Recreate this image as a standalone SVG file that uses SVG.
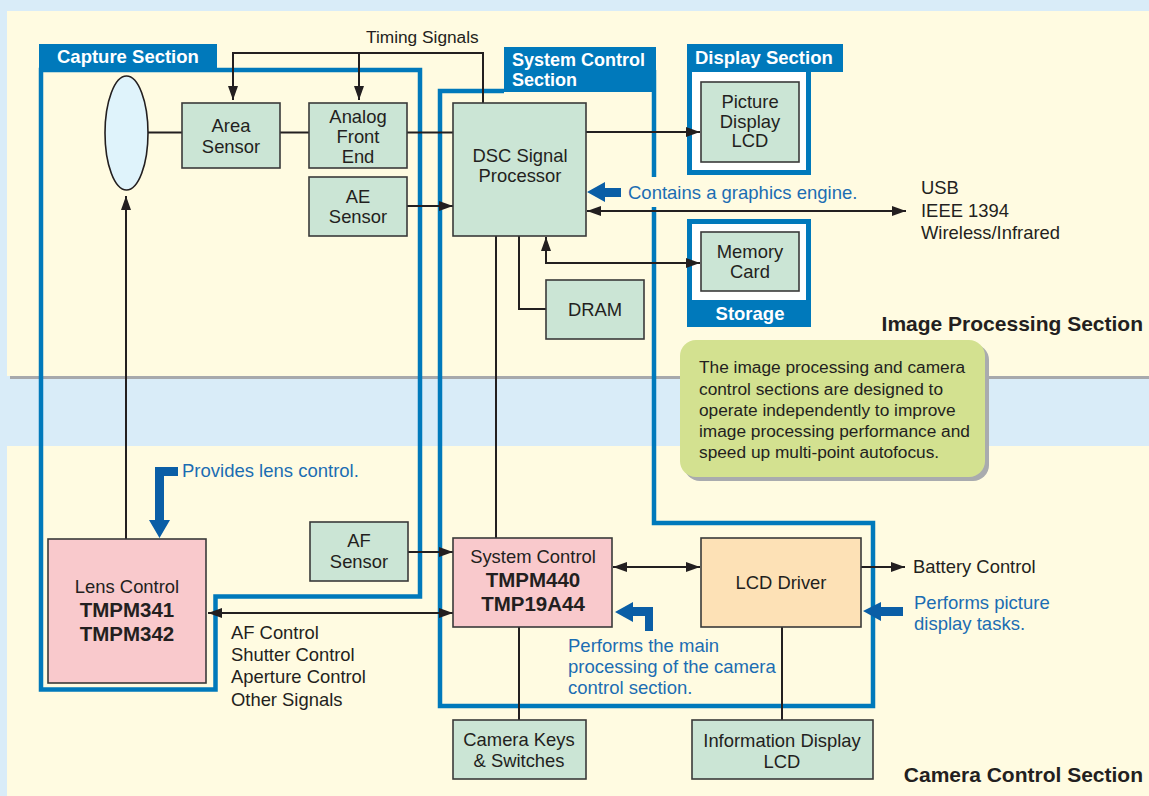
<svg xmlns="http://www.w3.org/2000/svg" width="1149" height="796" viewBox="0 0 1149 796">
<defs>
<style>
.bx{stroke:#3a3a3a;stroke-width:1.6}
.g{fill:#cbe5d5}
.p{fill:#f9c9cc}
.o{fill:#fde1b6}
.t{font-family:"Liberation Sans",Arial,sans-serif;font-size:18.4px;fill:#231f20}
.c{text-anchor:middle}
.b{font-weight:bold;font-size:20.5px}
.n{font-size:17.3px}
.w{font-family:"Liberation Sans",Arial,sans-serif;font-weight:bold;font-size:18.5px;fill:#ffffff}
.bl{font-family:"Liberation Sans",Arial,sans-serif;font-size:18.5px;fill:#1b6db3}
.sec{fill:none;stroke:#0079bb;stroke-width:4.5}
.ln{fill:none;stroke:#231f20;stroke-width:2}
.ca{fill:#0a5ea6}
.hd{font-family:"Liberation Sans",Arial,sans-serif;font-weight:bold;font-size:21px;fill:#231f20;text-anchor:end}
</style>
<marker id="ah" viewBox="0 0 14 10" refX="14" refY="5" markerWidth="14" markerHeight="10" markerUnits="userSpaceOnUse" orient="auto-start-reverse">
<path d="M0,0 L14,5 L0,10 z" fill="#231f20"/>
</marker>
</defs>

<g id="background">
<rect x="0" y="0" width="1149" height="796" fill="#d9ecf8"/>
<rect x="7" y="11" width="1142" height="365" fill="#fffbe1"/>
<rect x="7" y="446" width="1142" height="350" fill="#fffbe1"/>
<line x1="10" y1="377.5" x2="1149" y2="377.5" stroke="#a7a9ac" stroke-width="3"/>
</g>

<g id="capture-section">
<path class="sec" d="M41,70 H420 V596.5 H215.5 V689.5 H41 Z"/>
<rect x="39" y="44" width="178" height="27" fill="#0079bb"/>
<text class="w" x="57" y="63">Capture Section</text>
</g>

<g id="system-control-section">
<path class="sec" d="M504,91 H440 V706 H873 V523 H654 V207"/>
<path class="sec" d="M654,177 V70"/>
<rect x="504" y="47" width="152" height="45" fill="#0079bb"/>
<text class="w" x="512" y="66" style="font-size:18px">System Control</text>
<text class="w" x="512" y="86" style="font-size:18px">Section</text>
</g>

<g id="display-section">
<rect x="687" y="44" width="156" height="28" fill="#0079bb"/>
<rect x="687" y="44" width="124" height="131" fill="#0079bb"/>
<rect x="692" y="72" width="114" height="98" fill="#ffffff"/>
<text class="w" x="695" y="64">Display Section</text>
</g>

<g id="storage-section">
<rect x="687" y="219" width="124" height="108" fill="#0079bb"/>
<rect x="692" y="224" width="114" height="76" fill="#ffffff"/>
<text class="w" x="750" y="320" text-anchor="middle">Storage</text>
</g>

<g id="connectors">
<path class="ln" d="M483,103 V53 H233 V100" marker-end="url(#ah)"/>
<path class="ln" d="M359,53 V100" marker-end="url(#ah)"/>
<line class="ln" x1="148" y1="132.5" x2="182" y2="132.5"/>
<line class="ln" x1="280" y1="132.5" x2="309" y2="132.5"/>
<line class="ln" x1="407" y1="132.5" x2="453" y2="132.5"/>
<line class="ln" x1="407" y1="206" x2="453" y2="206" marker-end="url(#ah)"/>
<line class="ln" x1="586" y1="132" x2="700" y2="132" marker-end="url(#ah)"/>
<line class="ln" x1="587" y1="211" x2="906" y2="211" marker-start="url(#ah)" marker-end="url(#ah)"/>
<path class="ln" d="M546,237 V263 H700" marker-start="url(#ah)" marker-end="url(#ah)"/>
<path class="ln" d="M519,236 V309 H546"/>
<line class="ln" x1="496" y1="236" x2="496" y2="538"/>
<line class="ln" x1="126" y1="539" x2="126" y2="196" marker-end="url(#ah)"/>
<line class="ln" x1="408" y1="552" x2="453" y2="552" marker-end="url(#ah)"/>
<line class="ln" x1="208" y1="613" x2="453" y2="613" marker-start="url(#ah)" marker-end="url(#ah)"/>
<line class="ln" x1="613" y1="567" x2="700" y2="567" marker-start="url(#ah)" marker-end="url(#ah)"/>
<line class="ln" x1="861" y1="567" x2="905" y2="567" marker-end="url(#ah)"/>
<line class="ln" x1="519" y1="627" x2="519" y2="720"/>
<line class="ln" x1="782" y1="627" x2="782" y2="720"/>
</g>

<g id="lens">
<ellipse cx="126.5" cy="133" rx="21.5" ry="57" fill="#dff3fb" stroke="#231f20" stroke-width="1.6"/>
</g>

<g id="area-sensor">
<rect class="bx g" x="182" y="103" width="98" height="65"/>
<text class="t c" x="231" y="132">Area</text>
<text class="t c" x="231" y="153">Sensor</text>
</g>

<g id="analog-front-end">
<rect class="bx g" x="309" y="103" width="98" height="65"/>
<text class="t c" x="358" y="123">Analog</text>
<text class="t c" x="358" y="143">Front</text>
<text class="t c" x="358" y="163">End</text>
</g>

<g id="ae-sensor">
<rect class="bx g" x="309" y="177" width="98" height="59"/>
<text class="t c" x="358" y="203">AE</text>
<text class="t c" x="358" y="223">Sensor</text>
</g>

<g id="dsc-signal-processor">
<rect class="bx g" x="453" y="103" width="133" height="133"/>
<text class="t c" x="520" y="162">DSC Signal</text>
<text class="t c" x="520" y="182">Processor</text>
</g>

<g id="picture-display-lcd">
<rect class="bx g" x="701" y="82" width="98" height="80"/>
<text class="t c" x="750" y="108">Picture</text>
<text class="t c" x="750" y="128">Display</text>
<text class="t c" x="750" y="147">LCD</text>
</g>

<g id="memory-card">
<rect class="bx g" x="701" y="232" width="98" height="59"/>
<text class="t c" x="750" y="258">Memory</text>
<text class="t c" x="750" y="278">Card</text>
</g>

<g id="dram">
<rect class="bx g" x="546" y="280" width="98" height="59"/>
<text class="t c" x="595" y="316">DRAM</text>
</g>

<g id="interfaces">
<text class="t" x="921" y="194">USB</text>
<text class="t" x="921" y="216.5">IEEE 1394</text>
<text class="t" x="921" y="239">Wireless/Infrared</text>
</g>

<g id="timing-signals">
<text class="t n" x="366" y="43">Timing Signals</text>
</g>

<g id="graphics-callout">
<polygon class="ca" points="587,192 605,182 605,188 621,188 621,197 605,197 605,202"/>
<text class="bl" x="628" y="199">Contains a graphics engine.</text>
</g>

<g id="image-processing-label">
<text class="hd" x="1143" y="331">Image Processing Section</text>
</g>

<g id="note">
<rect x="684" y="344" width="305" height="137" rx="16" fill="#a9abae"/>
<rect x="680" y="340" width="305" height="137" rx="16" fill="#d3e190"/>
<text class="t n" x="699" y="373">The image processing and camera</text>
<text class="t n" x="699" y="394.5">control sections are designed to</text>
<text class="t n" x="699" y="416">operate independently to improve</text>
<text class="t n" x="699" y="437">image processing performance and</text>
<text class="t n" x="699" y="458">speed up multi-point autofocus.</text>
</g>

<g id="lens-callout">
<polygon class="ca" points="178,467 155,467 155,520 149,520 159.5,538 170,520 164,520 164,476 178,476"/>
<text class="bl" x="182" y="477">Provides lens control.</text>
</g>

<g id="af-sensor">
<rect class="bx g" x="310" y="522" width="98" height="59"/>
<text class="t c" x="359" y="547">AF</text>
<text class="t c" x="359" y="568">Sensor</text>
</g>

<g id="lens-control">
<rect class="bx p" x="48" y="539" width="158" height="144"/>
<text class="t c" x="127" y="593">Lens Control</text>
<text class="t c b" x="127" y="617">TMPM341</text>
<text class="t c b" x="127" y="641">TMPM342</text>
</g>

<g id="lens-signals">
<text class="t" x="231" y="639">AF Control</text>
<text class="t" x="231" y="661">Shutter Control</text>
<text class="t" x="231" y="683">Aperture Control</text>
<text class="t" x="231" y="706">Other Signals</text>
</g>

<g id="system-control">
<rect class="bx p" x="453" y="538" width="159" height="89"/>
<text class="t c" x="533" y="563">System Control</text>
<text class="t c b" x="533" y="587">TMPM440</text>
<text class="t c b" x="533" y="611">TMP19A44</text>
</g>

<g id="main-callout">
<polygon class="ca" points="615,612 633,602 633,607 653,607 653,631 645,631 645,616 633,616 633,622"/>
<text class="bl" x="568" y="652">Performs the main</text>
<text class="bl" x="568" y="673">processing of the camera</text>
<text class="bl" x="568" y="694">control section.</text>
</g>

<g id="lcd-driver">
<rect class="bx o" x="701" y="538" width="160" height="89"/>
<text class="t c" x="781" y="589">LCD Driver</text>
</g>

<g id="battery-control">
<text class="t" x="913" y="573">Battery Control</text>
</g>

<g id="display-callout">
<polygon class="ca" points="863,611 881,602 881,607 903,607 903,616 881,616 881,621"/>
<text class="bl" x="914" y="609">Performs picture</text>
<text class="bl" x="914" y="630">display tasks.</text>
</g>

<g id="camera-keys">
<rect class="bx g" x="453" y="720" width="133" height="59"/>
<text class="t c" x="519" y="746">Camera Keys</text>
<text class="t c" x="519" y="767">&amp; Switches</text>
</g>

<g id="info-display-lcd">
<rect class="bx g" x="692" y="720" width="181" height="59"/>
<text class="t c" x="782" y="747">Information Display</text>
<text class="t c" x="782" y="768">LCD</text>
</g>

<g id="camera-control-label">
<text class="hd" x="1143" y="782">Camera Control Section</text>
</g>
</svg>
